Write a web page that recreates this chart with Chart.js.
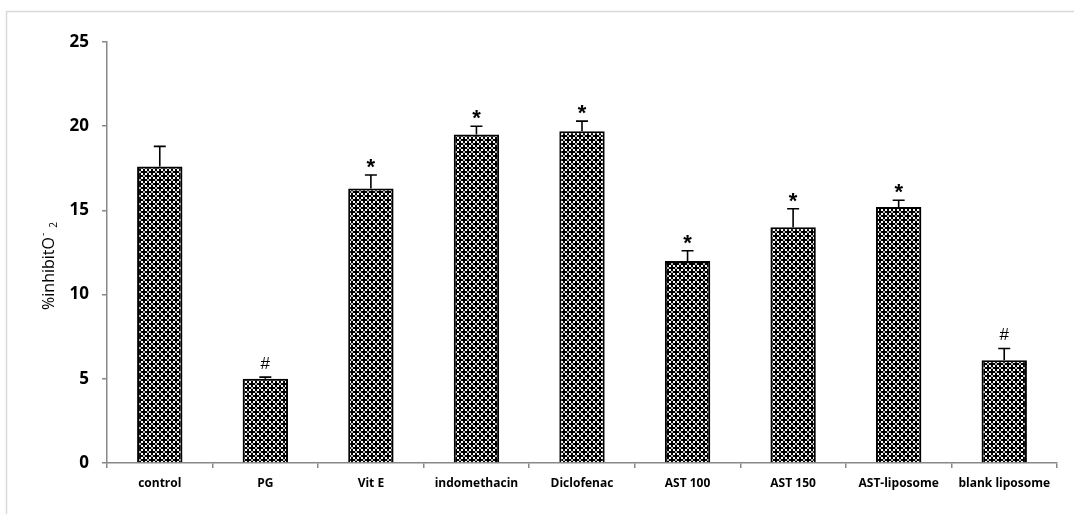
<!DOCTYPE html>
<html>
<head>
<meta charset="utf-8">
<script src="https://cdn.jsdelivr.net/npm/chart.js@4.4.0/dist/chart.umd.min.js"></script>
<style>
  html, body { margin: 0; padding: 0; background: #ffffff; }
  #wrap { position: relative; width: 1074px; height: 514px; }
</style>
</head>
<body>
<div id="wrap"><canvas id="c" width="1074" height="514"></canvas></div>
<script>
const categories = ['control', 'PG', 'Vit E', 'indomethacin', 'Diclofenac', 'AST 100', 'AST 150', 'AST-liposome', 'blank liposome'];
const values = [17.6, 5.0, 16.3, 19.5, 19.7, 12.0, 14.0, 15.2, 6.1];
const errors = [1.2, 0.1, 0.8, 0.5, 0.6, 0.6, 1.1, 0.4, 0.7];
const marks = ['', '#', '*', '*', '*', '*', '*', '*', '#'];
const yTicks = [0, 5, 10, 15, 20, 25];
const yTitleMain = '%inhibitO';
const yTitleSup = '-';
const yTitleSub = '2';

// checkered fill pattern
function makePattern() {
  const t = document.createElement('canvas');
  t.width = 8; t.height = 8;
  const g = t.getContext('2d');
  g.fillStyle = '#000000';
  g.fillRect(0, 0, 8, 8);
  g.fillStyle = '#ffffff';
  g.fillRect(1, 1, 2, 2);
  g.fillRect(5, 1, 2, 2);
  g.fillRect(1, 5, 2, 2);
  g.fillRect(5, 5, 2, 2);
  g.fillStyle = '#b0b0b0';
  g.fillRect(3, 3, 2, 2);
  g.fillRect(7, 7, 1, 1);
  g.fillRect(0, 0, 1, 1);
  g.fillRect(7, 0, 1, 1);
  g.fillRect(0, 7, 1, 1);
  return g.createPattern(t, 'repeat');
}
const ctx0 = document.getElementById('c').getContext('2d');
const pattern = makePattern();

const framePlugin = {
  id: 'frame',
  beforeDraw(chart) {
    const c = chart.ctx;
    c.save();
    c.strokeStyle = '#d9d9d9';
    c.lineWidth = 1.5;
    c.beginPath();
    c.moveTo(6.5, 514);
    c.lineTo(6.5, 11.5);
    c.lineTo(1074, 11.5);
    c.stroke();
    c.restore();
  }
};

const errPlugin = {
  id: 'errbars',
  afterDatasetsDraw(chart) {
    const c = chart.ctx;
    const meta = chart.getDatasetMeta(0);
    const ys = chart.scales.y;
    c.save();
    c.strokeStyle = '#000000';
    c.lineWidth = 1.6;
    meta.data.forEach((bar, i) => {
      const x = bar.x;
      const yTop = ys.getPixelForValue(values[i]);
      const yErr = ys.getPixelForValue(values[i] + errors[i]);
      c.beginPath();
      c.moveTo(x, yTop);
      c.lineTo(x, yErr);
      c.moveTo(x - 6, yErr);
      c.lineTo(x + 6, yErr);
      c.stroke();
      if (marks[i]) {
        c.fillStyle = '#000000';
        c.textAlign = 'center';
        c.textBaseline = 'alphabetic';
        if (marks[i] === '*') {
          c.font = 'bold 22px "Liberation Sans"';
          c.fillText('*', x, yErr - 1);
        } else {
          c.font = '17px "Liberation Sans"';
          c.fillText('#', x, yErr - 8);
        }
      }
    });
    // y axis title
    c.translate(49, 266);
    c.rotate(-Math.PI / 2);
    c.fillStyle = '#000000';
    c.textBaseline = 'middle';
    c.textAlign = 'left';
    c.font = '16px "Open Sans"';
    const wMain = c.measureText(yTitleMain).width;
    c.font = '10px "Open Sans"';
    const wSup = c.measureText(yTitleSup).width;
    const wSub = c.measureText(yTitleSub).width;
    const total = wMain + wSup + 6 + wSub;
    let x0 = -total / 2;
    c.font = '16px "Open Sans"';
    c.fillText(yTitleMain, x0, 0);
    x0 += wMain;
    c.font = '10px "Open Sans"';
    c.fillText(yTitleSup, x0 + 1, -6);
    x0 += wSup + 6;
    c.fillText(yTitleSub, x0, 5);
    c.restore();
  }
};

new Chart(ctx0, {
  type: 'bar',
  data: {
    labels: categories,
    datasets: [{
      data: values,
      backgroundColor: pattern,
      borderColor: '#000000',
      borderWidth: 2,
      borderSkipped: 'start',
      barPercentage: 0.43,
      categoryPercentage: 1.0
    }]
  },
  options: {
    responsive: false,
    animation: false,
    events: [],
    layout: { padding: { left: 7, top: 42, right: 17, bottom: 0 } },
    plugins: { legend: { display: false }, tooltip: { enabled: false } },
    scales: {
      x: {
        grid: { display: true, drawOnChartArea: false, drawTicks: true, tickLength: 5, color: '#888888', lineWidth: 1.5, offset: true },
        border: { display: true, color: '#888888', width: 1.5 },
        ticks: {
          color: '#000000',
          font: { family: '"Open Sans"', size: 12, weight: 'bold' },
          padding: 8,
          maxRotation: 0,
          autoSkip: false
        },
        afterFit(scale) { scale.height = 51; }
      },
      y: {
        min: 0,
        max: 25,
        afterBuildTicks(scale) { scale.ticks = yTicks.map(v => ({ value: v })); },
        grid: { display: true, drawOnChartArea: false, drawTicks: true, tickLength: 5, color: '#888888', lineWidth: 1.5 },
        border: { display: true, color: '#888888', width: 1.5 },
        ticks: {
          color: '#000000',
          font: { family: '"Open Sans"', size: 17, weight: 'bold' },
          padding: 13
        },
        afterFit(scale) { scale.width = 100; }
      }
    }
  },
  plugins: [framePlugin, errPlugin]
});
</script>
</body>
</html>
